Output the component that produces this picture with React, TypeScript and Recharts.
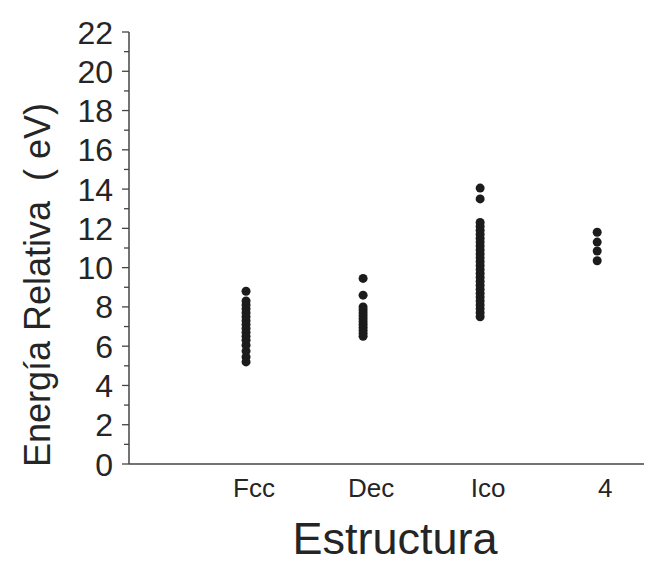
import React from "react";
import { ScatterChart, Scatter, XAxis, YAxis } from "recharts";

const categories = ["Fcc", "Dec", "Ico", "4"];
const fccValues = [5.2, 5.45, 5.75, 6.05, 6.3, 6.5, 6.7, 6.9, 7.1, 7.3, 7.5, 7.7, 7.9, 8.1, 8.3, 8.8];
const decValues = [6.5, 6.65, 6.8, 6.95, 7.1, 7.25, 7.4, 7.55, 7.7, 7.85, 8.0, 8.6, 9.45];
const icoValues = [7.5, 7.7, 7.9, 8.1, 8.3, 8.5, 8.7, 8.9, 9.1, 9.3, 9.5, 9.7, 9.9, 10.1, 10.3, 10.5, 10.7, 10.9, 11.1, 11.3, 11.5, 11.7, 11.9, 12.1, 12.3, 13.5, 14.05];
const fourValues = [10.35, 10.85, 11.3, 11.8];
const yTicks = [0, 1, 2, 3, 4, 5, 6, 7, 8, 9, 10, 11, 12, 13, 14, 15, 16, 17, 18, 19, 20, 21, 22];
const xTicks = [1, 2, 3, 4];

const seriesValues = [fccValues, decValues, icoValues, fourValues];
const points = seriesValues.flatMap((vals, i) => vals.map((v) => ({ x: i + 1, y: v })));

const AXIS_X = 129;
const TEXT = "#252525";
const FONT = "Liberation Sans, Arial, sans-serif";

const YTick = (props: any) => {
  const { y, payload } = props;
  const v = payload.value;
  const major = v % 2 === 0;
  return (
    <g>
      <line x1={AXIS_X - (major ? 7 : 5)} x2={AXIS_X} y1={y} y2={y} stroke="#444" strokeWidth={1.3} />
      {major && (
        <text x={113} y={y} dy="0.36em" textAnchor="end" fontSize={32} fill={TEXT} fontFamily={FONT}>
          {v}
        </text>
      )}
    </g>
  );
};

const XTick = (props: any) => {
  const { x, payload } = props;
  return (
    <text x={x + 8} y={497} textAnchor="middle" fontSize={26} fill={TEXT} fontFamily={FONT}>
      {categories[payload.value - 1]}
    </text>
  );
};

const Dot = (props: any) => <circle cx={props.cx} cy={props.cy} r={4.5} fill="#1c1c1c" />;

export default function App() {
  return (
    <div style={{ position: "absolute", left: 0, top: 0, background: "#fff" }}>
      <ScatterChart width={653} height={565} margin={{ top: 32, right: 9, left: 0, bottom: 0 }}>
        <XAxis
          type="number"
          dataKey="x"
          domain={[0, 4.4]}
          ticks={xTicks}
          tick={<XTick />}
          tickLine={false}
          axisLine={{ stroke: "#444", strokeWidth: 1.5 }}
          height={101}
          label={{
            content: () => (
              <text x={395} y={554} textAnchor="middle" fontSize={45} fill={TEXT} fontFamily={FONT}>
                Estructura
              </text>
            ),
          }}
        />
        <YAxis
          type="number"
          dataKey="y"
          domain={[0, 22]}
          ticks={yTicks}
          interval={0}
          tick={<YTick />}
          tickLine={false}
          axisLine={{ stroke: "#444", strokeWidth: 1.5 }}
          width={129}
          label={{
            content: () => (
              <text
                x={50}
                y={285}
                transform="rotate(-90 50 285)"
                textAnchor="middle"
                fontSize={36}
                fill={TEXT}
                fontFamily={FONT}
                style={{ whiteSpace: "pre" }}
              >
                {"Energía Relativa  ( eV)"}
              </text>
            ),
          }}
        />
        <Scatter data={points} shape={<Dot />} isAnimationActive={false} />
      </ScatterChart>
    </div>
  );
}
